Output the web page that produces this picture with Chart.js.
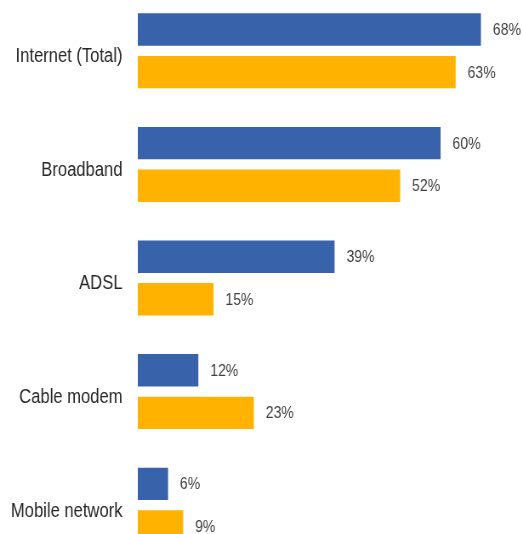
<!DOCTYPE html>
<html>
<head>
<meta charset="utf-8">
<script src="https://cdn.jsdelivr.net/npm/chart.js@4.4.1/dist/chart.umd.min.js"></script>
<style>
  html, body { margin: 0; padding: 0; background: #fff; overflow: hidden; }
  body { width: 523px; height: 534px; position: relative; }
</style>
</head>
<body>
<!-- canvas is drawn wider and squeezed by css so the text comes out condensed -->
<canvas id="chart" width="615" height="568"
  style="position:absolute;left:0;top:-6px;width:523px;height:568px"></canvas>
<script>
const categories = ['Internet (Total)', 'Broadband', 'ADSL', 'Cable modem', 'Mobile network'];
const seriesA = [68, 60, 39, 12, 6];
const seriesB = [63, 52, 15, 23, 9];
const xMax = 76;

// draws the "68%" style labels at the end of each bar
const valueLabels = {
  id: 'valueLabels',
  afterDatasetsDraw(chart) {
    const ctx = chart.ctx;
    ctx.save();
    ctx.font = '16.5px "Liberation Sans", Arial, sans-serif';
    ctx.fillStyle = '#404040';
    ctx.textAlign = 'left';
    ctx.textBaseline = 'middle';
    chart.data.datasets.forEach((ds, i) => {
      const meta = chart.getDatasetMeta(i);
      meta.data.forEach((bar, j) => {
        ctx.fillText(ds.data[j] + '%', bar.x + 14, bar.y + 1);
      });
    });
    ctx.restore();
  }
};

new Chart(document.getElementById('chart').getContext('2d'), {
  type: 'bar',
  data: {
    labels: categories,
    datasets: [
      {
        label: 'Series 1',
        data: seriesA,
        backgroundColor: '#3862AA',
        categoryPercentage: 0.75,
        barPercentage: 0.76,
      },
      {
        label: 'Series 2',
        data: seriesB,
        backgroundColor: '#FFB300',
        categoryPercentage: 0.75,
        barPercentage: 0.76,
      },
    ],
  },
  options: {
    indexAxis: 'y',
    responsive: false,
    devicePixelRatio: 1,
    animation: false,
    layout: { padding: { left: 0, right: 2, top: 0, bottom: 0 } },
    plugins: {
      legend: { display: false },
      tooltip: { enabled: false },
    },
    scales: {
      x: {
        display: false,
        min: 0,
        max: xMax,
      },
      y: {
        grid: { display: false, drawTicks: false },
        border: { display: false },
        ticks: {
          padding: 18,
          labelOffset: 6,
          color: '#262626',
          font: { family: '"Liberation Sans", Arial, sans-serif', size: 19.5 },
        },
        afterFit(scale) {
          scale.width = 162;
          // the tick padding would otherwise also shrink the plot vertically
          scale.paddingTop = 0;
          scale.paddingBottom = 0;
        },
      },
    },
  },
  plugins: [valueLabels],
});
</script>
</body>
</html>
